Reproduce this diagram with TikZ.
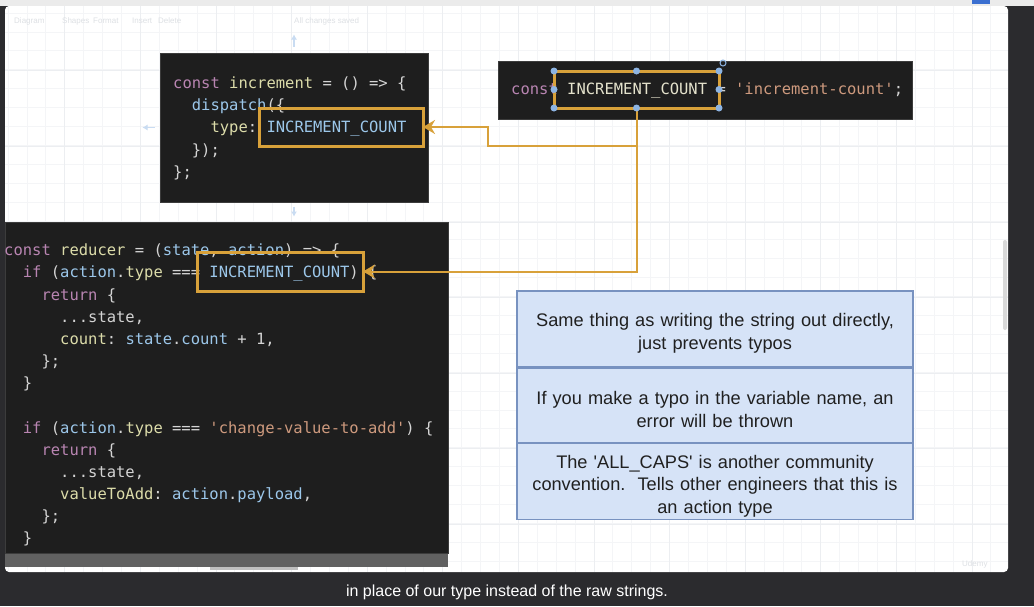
\documentclass[tikz,border=0pt]{standalone}
\usepackage{fontspec}
\setmainfont{Liberation Sans}
\setmonofont{DejaVu Sans Mono}
\usepackage{xcolor}
\usetikzlibrary{positioning,arrows.meta,calc}

\definecolor{frame}{HTML}{2B2B2E}
\definecolor{topbar}{HTML}{EBEBEB}
\definecolor{tabicon}{HTML}{3B6FD0}
\definecolor{gridminor}{HTML}{F4F5F7}
\definecolor{gridmajor}{HTML}{ECEEF1}
\definecolor{codebg}{HTML}{1E1E1E}
\definecolor{codebd}{HTML}{3C3C3C}
\definecolor{codefg}{HTML}{D4D4D4}
\definecolor{kwcol}{HTML}{B985B2}
\definecolor{fncol}{HTML}{DCDCAA}
\definecolor{idcol}{HTML}{9CC7EA}
\definecolor{strcol}{HTML}{CE9A7E}
\definecolor{capscol}{HTML}{E4E2CC}
\definecolor{hlorange}{HTML}{D8A13A}
\definecolor{handlecol}{HTML}{8DB4E2}
\definecolor{notebg}{HTML}{D6E3F7}
\definecolor{notebd}{HTML}{7892C0}
\definecolor{notetx}{HTML}{202020}
\definecolor{hovercol}{HTML}{C9DCF2}
\definecolor{faint}{HTML}{DDE0E4}

\newcommand{\kw}[1]{\textcolor{kwcol}{#1}}
\newcommand{\fnc}[1]{\textcolor{fncol}{#1}}
\newcommand{\idn}[1]{\textcolor{idcol}{#1}}
\newcommand{\strg}[1]{\textcolor{strcol}{#1}}
\newcommand{\notetop}{\rule{0pt}{22pt}}

\begin{document}
\begin{tikzpicture}[
  x=1pt, y=-1pt,
  code/.style={font=\ttfamily\fontsize{15.5}{18}\selectfont, text=codefg, inner sep=0pt, anchor=base west},
  codebox/.style={fill=codebg, draw=codebd, line width=1, inner sep=0pt},
  hl/.style={draw=hlorange, line width=3, inner sep=0pt, outer sep=0pt},
  link/.style={draw=hlorange, line width=2, -{Stealth[length=12pt, width=14pt, inset=4pt]}},
  handle/.style={fill=handlecol},
  hover/.style={draw=hovercol, line width=1.5, -{Latex[length=5pt, width=6pt]}},
  note/.style={draw=notebd, fill=notebg, line width=1.3, minimum width=396, text width=392,
    inner xsep=2pt, inner ysep=1pt, align=center, text=notetx, font=\fontsize{18.2}{22.5}\selectfont},
  tool/.style={font=\fontsize{8}{9}\selectfont, text=faint, inner sep=0pt, anchor=base west},
  caption/.style={font=\fontsize{16}{18}\selectfont, text=white, inner sep=0pt}
]
\useasboundingbox (0,0) rectangle (1034,606);
% Frame and canvas
\fill[frame] (0,0) rectangle (1034,606);
\fill[topbar] (0,0) rectangle (1034,6);
\fill[white, rounded corners=4pt] (5,6) rectangle (1008,572);
\fill[tabicon] (972,0) rectangle (990,4);
\foreach \gx in {7.8,26.7,...,1000} {
  \draw[gridminor] (\gx,6) -- (\gx,572);
}
\foreach \gy in {12.8,31.7,...,570} {
  \draw[gridminor] (5,\gy) -- (1008,\gy);
}
\foreach \gx in {64.5,140.1,...,1000} {
  \draw[gridmajor] (\gx,6) -- (\gx,572);
}
\foreach \gy in {70.5,146.1,...,570} {
  \draw[gridmajor] (5,\gy) -- (1008,\gy);
}
\fill[black!15, rounded corners=2pt] (1003,240) rectangle (1007,330);
\fill[black!25] (210,567) rectangle (298,570);
% Toolbar
\node[tool] (tdiag) at (14,23) {Diagram};
\node[tool] (tshape) at (62,23) {Shapes};
\node[tool] (tform) at (93,23) {Format};
\node[tool] (tins) at (132,23) {Insert};
\node[tool] (tdel) at (158,23) {Delete};
\node[tool] (tsaved) at (294,23) {All changes saved};
\node[tool] (udemy) at (962,566) {Udemy};

% increment action creator
\node[codebox, minimum width=268, minimum height=149] (incbox) at (294,127.5) {};
\foreach \ind/\by/\txt [count=\i] in {
  0/88/{\kw{const} \fnc{increment} = () => \{},
  2/110/{\idn{dispatch}(\{},
  4/132/{\fnc{type}: \idn{INCREMENT\_COUNT}},
  2/155/{\});},
  0/177/{\};}
} {
  \node[code] (inc\i) at (173+\ind*9.33,\by) {\txt};
}
\node[hl, minimum width=164, minimum height=38] (hlinc) at (341,127) {};
\draw[hover] ([yshift=6pt]incbox.north) -- ++(0,-12);
\draw[hover] ([xshift=-5pt]incbox.west) -- ++(-12,0);
\draw[hover] ([yshift=-4pt]incbox.south) -- ++(0,10);

% constant
\node[codebox, minimum width=414, minimum height=58] (constbox) at (705,90) {};
\node[code] (constline) at (511,94) {\kw{const} \textcolor{capscol}{INCREMENT\_COUNT} = \strg{'increment-count'};};
\node[hl, minimum width=165, minimum height=37] (hlconst) at (636.5,89.5) {};

% reducer
\node[codebox, minimum width=443, minimum height=331] (redbox) at (226.5,387.5) {};
\fill[black!62] (redbox.south west) rectangle ++(443,13);
\foreach \ind/\by/\txt [count=\i] in {
  0/255/{\kw{const} \fnc{reducer} = (\idn{state}, \idn{action}) => \{},
  2/277/{\kw{if} (\idn{action}.\fnc{type} === \idn{INCREMENT\_COUNT}) \{},
  4/300/{\kw{return} \{},
  6/322/{...state,},
  6/344/{\fnc{count}: \idn{state}.\idn{count} + 1,},
  4/366/{\};},
  2/388/{\}},
  2/433/{\kw{if} (\idn{action}.\fnc{type} === \strg{'change-value-to-add'}) \{},
  4/455/{\kw{return} \{},
  6/477/{...state,},
  6/499/{\fnc{valueToAdd}: \idn{action}.\idn{payload},},
  4/521/{\};},
  2/543/{\}}
} {
  \node[code] (red\i) at (4+\ind*9.33,\by) {\txt};
}
\node[hl, minimum width=166, minimum height=39] (hlred) at (280,271.5) {};

% links
\coordinate (turn) at (488,146);
\draw[link] (hlconst.south) |- (turn) |- (hlinc.east);
\draw[link] (hlconst.south) |- (hlred.east);
\foreach \a in {north west,north,north east,west,east,south west,south,south east} {
  \fill[handle] (hlconst.\a) circle (3.5);
}
\draw[handlecol, line width=1] ([shift={(4,-8)}]hlconst.north east) circle (3);

% notes
\node[note, minimum height=76] (note1) at (715,329) {\notetop Same thing as writing the string out directly,\\ just prevents typos};
\node[note, minimum height=74, below=0pt of note1] (note2) {\notetop If you make a typo in the variable name, an\\ error will be thrown};
\node[note, minimum height=76, below=0pt of note2] (note3) {\notetop The \textquotesingle ALL\_CAPS\textquotesingle\ is another community\\ convention.\ \ Tells other engineers that this is\\ an action type};

% caption
\node[caption] (cap) at (507,592) {in place of our type instead of the raw strings.};
\end{tikzpicture}
\end{document}
